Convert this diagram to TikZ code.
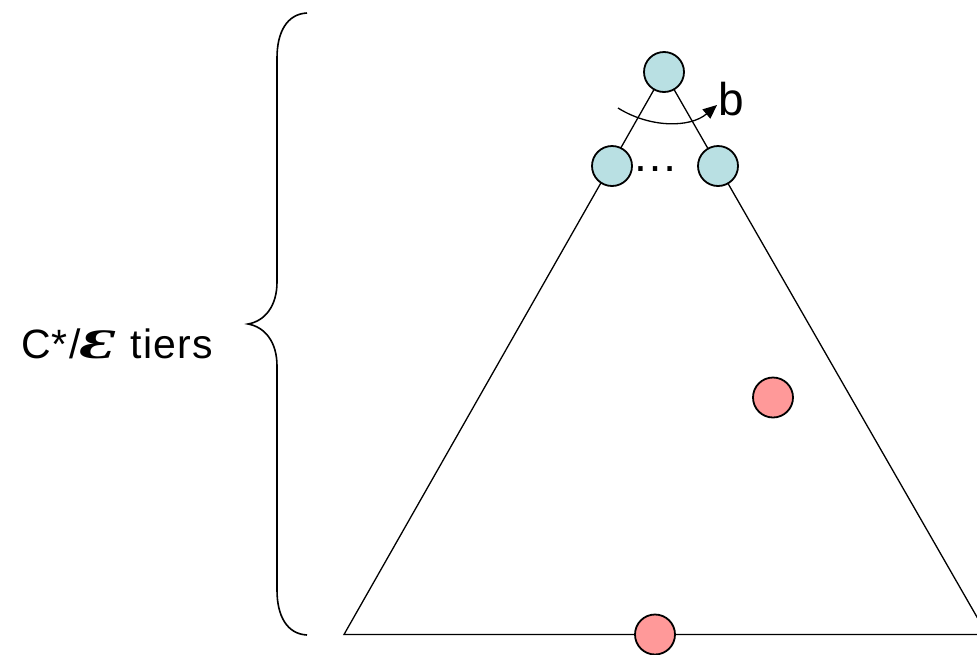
\documentclass[tikz,border=0pt]{standalone}
\usepackage{fontspec}
\setmainfont{Liberation Sans}
\newfontfamily\scriptE[BoldItalicFont={* Bold Italic}]{Liberation Serif}
\usepackage{tikz}
\usetikzlibrary{arrows.meta}

\definecolor{nodeblue}{RGB}{185,224,227}
\definecolor{nodered}{RGB}{255,153,153}

\begin{document}
\begin{tikzpicture}[x=1pt,y=-1pt,
  tier/.style={draw,circle,line width=1.8pt,minimum size=40pt,inner sep=0pt},
  edge/.style={line width=1.3pt}]
\useasboundingbox (0,0) rectangle (977,654);

% triangle
\coordinate (apex) at (664,72);
\coordinate (bl) at (344,634.5);
\coordinate (br) at (987,634.5);
\draw[edge] (bl) -- (apex) -- (br) -- cycle;

\node[tier,fill=nodeblue] (top) at (664,72) {};
\node[tier,fill=nodeblue] (left) at (612,166) {};
\node[tier,fill=nodeblue] (right) at (718,166) {};
\node[tier,fill=nodered] (mid) at (773,397.5) {};
\node[tier,fill=nodered] (bot) at (655,634.5) {};

\node[anchor=base,inner sep=0pt,font=\fontsize{46}{50}\selectfont] (dots) at (655,171) {…};

% branching arrow
\coordinate (arrs) at (618,108);
\coordinate (arre) at (717,105);
\draw[line width=1.3pt,-{Triangle[length=14pt,width=12pt]}] (arrs) .. controls (650,128) and (690,128) .. (arre);
\node[anchor=base west,inner sep=0pt,font=\fontsize{46}{50}\selectfont] (b) at (718,115) {b};

% brace
\draw[line width=1.6pt] (307,13) .. controls (287,14) and (277,32) .. (277,58) -- (277,282)
  .. controls (277,306) and (265,321) .. (248,324)
  .. controls (265,327) and (277,342) .. (277,366) -- (277,590)
  .. controls (277,616) and (287,634) .. (307,635);

\node[anchor=base west,inner sep=0pt,font=\fontsize{41}{45}\selectfont\addfontfeatures{LetterSpace=3}] (tiers) at (21,358)
  {C*/\scalebox{1.6}[1.0]{\scriptE\bfseries\itshape\fontsize{42}{46}\selectfont Ɛ}\hspace{16pt}tiers};
\end{tikzpicture}
\end{document}
